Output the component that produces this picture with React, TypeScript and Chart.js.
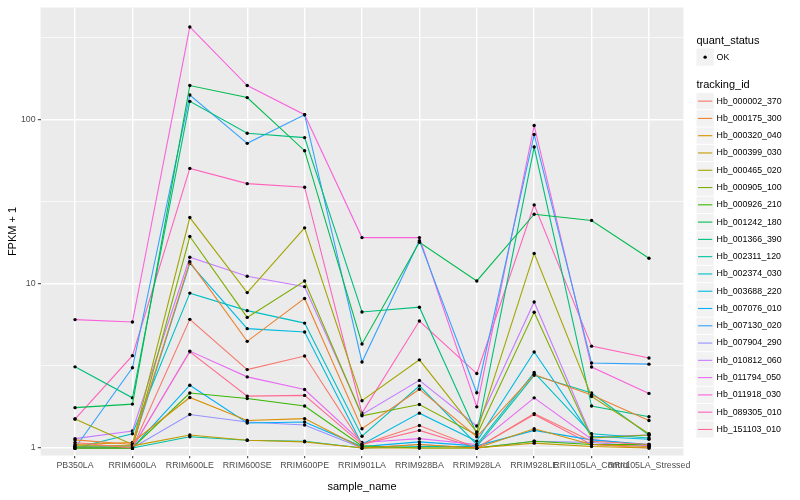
import React, { useEffect, useRef } from "react";
import { Chart, registerables } from "chart.js";

Chart.register(...registerables);

const categories = [
  "PB350LA", "RRIM600LA", "RRIM600LE", "RRIM600SE", "RRIM600PE", "RRIM901LA",
  "RRIM928BA", "RRIM928LA", "RRIM928LE", "RRII105LA_Control", "RRII105LA_Stressed",
];

const trackingIds = [
  "Hb_000002_370", "Hb_000175_300", "Hb_000320_040", "Hb_000399_030", "Hb_000465_020",
  "Hb_000905_100", "Hb_000926_210", "Hb_001242_180", "Hb_001366_390", "Hb_002311_120",
  "Hb_002374_030", "Hb_003688_220", "Hb_007076_010", "Hb_007130_020", "Hb_007904_290",
  "Hb_010812_060", "Hb_011794_050", "Hb_011918_030", "Hb_089305_010", "Hb_151103_010",
];

const seriesColors = [
  "#F8766D", "#EA8331", "#D89000", "#C09B00", "#A3A500", "#7CAE00", "#39B600", "#00BB4E",
  "#00BF7D", "#00C1A3", "#00BFC4", "#00BAE0", "#00B0F6", "#35A2FF", "#9590FF", "#C77CFF",
  "#E76BF3", "#FA62DB", "#FF62BC", "#FF6C91",
];

// FPKM + 1 per sample, in category order
const hb000002_370 = [1.08, 1.0, 6.07, 3.0, 3.63, 1.05, 1.37, 1.0, 1.62, 1.1, 1.05];
const hb000175_300 = [1.12, 1.05, 13.6, 4.46, 8.14, 1.31, 2.28, 1.17, 2.8, 2.1, 1.47];
const hb000320_040 = [1.05, 1.08, 2.03, 1.47, 1.51, 1.0, 1.05, 1.0, 1.31, 1.05, 1.02];
const hb000399_030 = [1.03, 1.03, 1.2, 1.115, 1.09, 1.0, 1.0, 1.0, 1.07, 1.02, 1.0];
const hb000465_020 = [1.5, 1.05, 25.3, 8.83, 21.9, 1.94, 3.44, 1.25, 15.3, 2.06, 1.22];
const hb000905_100 = [1.0, 1.0, 19.4, 6.24, 10.4, 1.57, 1.84, 1.2, 6.7, 1.15, 1.2];
const hb000926_210 = [1.0, 1.0, 2.16, 2.0, 1.8, 1.03, 1.0, 1.0, 1.1, 1.05, 1.05];
const hb001242_180 = [1.76, 1.85, 161, 136, 64.6, 4.3, 17.9, 10.4, 26.5, 24.3, 14.3];
const hb001366_390 = [3.12, 2.02, 129, 82.4, 77.6, 6.73, 7.2, 1.22, 68, 1.8, 1.55];
const hb002311_120 = [1.0, 1.0, 1.17, 1.115, 1.1, 1.0, 1.02, 1.02, 2.77, 2.16, 1.2];
const hb002374_030 = [1.0, 1.22, 8.77, 6.86, 5.76, 1.18, 2.39, 1.05, 2.88, 1.22, 1.15];
const hb003688_220 = [1.02, 1.03, 13.3, 5.33, 5.08, 1.05, 1.63, 1.1, 3.84, 1.18, 1.13];
const hb007076_010 = [1.0, 1.0, 2.41, 1.42, 1.44, 1.02, 1.09, 1.03, 1.28, 1.12, 1.05];
const hb007130_020 = [1.0, 3.08, 141, 71.6, 107, 3.34, 18.3, 2.17, 81, 3.29, 3.24];
const hb007904_290 = [1.02, 1.0, 1.6, 1.44, 1.38, 1.0, 1.05, 1.0, 1.1, 1.08, 1.02];
const hb010812_060 = [1.14, 1.27, 14.5, 11.1, 9.6, 1.6, 2.58, 1.36, 7.75, 1.17, 1.2];
const hb011794_050 = [1.0, 1.0, 3.89, 2.71, 2.27, 1.08, 1.14, 1.05, 2.02, 1.13, 1.03];
const hb011918_030 = [6.05, 5.85, 366, 161, 107, 19.1, 19.1, 1.78, 92, 3.11, 2.15];
const hb089305_010 = [1.5, 3.65, 50.4, 40.7, 38.7, 1.63, 5.93, 2.84, 30.2, 4.17, 3.53];
const hb151103_010 = [1.0, 1.0, 3.85, 2.07, 2.09, 1.05, 1.28, 1.0, 1.6, 1.05, 1.0];

const seriesValues = [
  hb000002_370, hb000175_300, hb000320_040, hb000399_030, hb000465_020,
  hb000905_100, hb000926_210, hb001242_180, hb001366_390, hb002311_120,
  hb002374_030, hb003688_220, hb007076_010, hb007130_020, hb007904_290,
  hb010812_060, hb011794_050, hb011918_030, hb089305_010, hb151103_010,
];

const yTickValues = [1, 3.1623, 10, 31.623, 100, 316.23];
const yMajorLabels = ["1", "10", "100"];
const quantStatus = ["OK"];

const FONT = "'Liberation Sans', Arial, Helvetica, sans-serif";

function isMajor(v: number) {
  const l = Math.log10(v);
  return Math.abs(l - Math.round(l)) < 0.01;
}

const ggPlugin = {
  id: "ggDecor",
  beforeDraw(chart: any) {
    const { ctx, chartArea } = chart;
    ctx.save();
    ctx.fillStyle = "#FFFFFF";
    ctx.fillRect(0, 0, chart.width, chart.height);
    ctx.fillStyle = "#EBEBEB";
    ctx.fillRect(chartArea.left, chartArea.top, chartArea.right - chartArea.left, chartArea.bottom - chartArea.top);
    ctx.restore();
  },
  afterDraw(chart: any) {
    const { ctx, chartArea } = chart;
    ctx.save();
    // axis titles
    ctx.fillStyle = "#000000";
    ctx.font = `11px ${FONT}`;
    ctx.textAlign = "center";
    ctx.textBaseline = "middle";
    ctx.fillText("sample_name", (chartArea.left + chartArea.right) / 2, 487);
    ctx.save();
    ctx.translate(13, (chartArea.top + chartArea.bottom) / 2);
    ctx.rotate(-Math.PI / 2);
    ctx.fillText("FPKM + 1", 0, 0);
    ctx.restore();

    // legend
    const lx = 696.5;
    const key = 17.28;
    ctx.textAlign = "left";
    ctx.font = `11px ${FONT}`;
    ctx.fillText("quant_status", lx, 40.5);
    ctx.fillStyle = "#F2F2F2";
    ctx.fillRect(lx, 48.5, key, key);
    ctx.fillStyle = "#000000";
    ctx.beginPath();
    ctx.arc(lx + key / 2, 48.5 + key / 2, 1.7, 0, Math.PI * 2);
    ctx.fill();
    ctx.font = `8.8px ${FONT}`;
    ctx.fillText(quantStatus[0], lx + key + 2.8, 48.5 + key / 2);

    ctx.font = `11px ${FONT}`;
    ctx.fillText("tracking_id", lx, 84.5);
    ctx.font = `8.8px ${FONT}`;
    trackingIds.forEach((id, i) => {
      const top = 92.5 + i * key;
      ctx.fillStyle = "#F2F2F2";
      ctx.fillRect(lx, top + 0.5, key, key - 1);
      ctx.strokeStyle = seriesColors[i];
      ctx.lineWidth = 1.1;
      ctx.beginPath();
      ctx.moveTo(lx + 1.5, top + key / 2);
      ctx.lineTo(lx + key - 1.5, top + key / 2);
      ctx.stroke();
      ctx.fillStyle = "#000000";
      ctx.fillText(id, lx + key + 2.8, top + key / 2);
    });
    ctx.restore();
  },
};

export default function App() {
  const canvasRef = useRef<HTMLCanvasElement | null>(null);

  useEffect(() => {
    document.body.style.margin = "0";
    const canvas = canvasRef.current;
    if (!canvas) return;

    const datasets = seriesValues.map((vals, s) => ({
      label: trackingIds[s],
      data: vals.map((v, i) => ({ x: i, y: v })),
      borderColor: seriesColors[s],
      backgroundColor: "#000000",
      borderWidth: 1.1,
      tension: 0,
      fill: false,
      pointRadius: 1.7,
      pointHoverRadius: 1.7,
      pointBackgroundColor: "#000000",
      pointBorderWidth: 0,
    }));

    const chart = new Chart(canvas, {
      type: "line",
      data: { datasets },
      plugins: [ggPlugin],
      options: {
        animation: false,
        responsive: true,
        maintainAspectRatio: false,
        layout: { padding: { left: 0, top: 5.5, right: 116.6, bottom: 0 } },
        plugins: { legend: { display: false }, tooltip: { enabled: false } },
        scales: {
          x: {
            type: "linear",
            min: -0.6,
            max: categories.length - 1 + 0.6,
            afterBuildTicks: (scale: any) => {
              scale.ticks = categories.map((_, i) => ({ value: i }));
            },
            afterFit: (scale: any) => {
              scale.height = 44.5;
            },
            ticks: {
              autoSkip: false,
              maxRotation: 0,
              minRotation: 0,
              padding: 2.2,
              color: "#4D4D4D",
              font: { family: FONT, size: 8.8 },
              callback: (v: any) => categories[Math.round(Number(v))] ?? "",
            },
            grid: {
              color: "#FFFFFF",
              lineWidth: 1.4,
              drawTicks: true,
              tickLength: 2.75,
              tickColor: "#333333",
              tickWidth: 1,
            },
            border: { display: false },
          },
          y: {
            type: "logarithmic",
            min: 0.9,
            max: 481,
            afterBuildTicks: (scale: any) => {
              scale.ticks = yTickValues.map((v) => ({ value: v }));
            },
            afterFit: (scale: any) => {
              scale.width = 40.6;
            },
            ticks: {
              autoSkip: false,
              padding: 2.2,
              color: "#4D4D4D",
              font: { family: FONT, size: 8.8 },
              callback: (v: any) => {
                const n = Number(v);
                if (!isMajor(n)) return "";
                const idx = Math.round(Math.log10(n));
                return yMajorLabels[idx] ?? "";
              },
            },
            grid: {
              color: "#FFFFFF",
              lineWidth: (ctx: any) => (ctx.tick && isMajor(ctx.tick.value) ? 1.4 : 0.7),
              drawTicks: true,
              tickLength: 2.75,
              tickWidth: 1,
              tickColor: (ctx: any) => (ctx.tick && isMajor(ctx.tick.value) ? "#333333" : "rgba(0,0,0,0)"),
            },
            border: { display: false },
          },
        },
      } as any,
    });

    return () => chart.destroy();
  }, []);

  return (
    <div style={{ position: "absolute", left: 0, top: 0, width: 800, height: 500 }}>
      <canvas ref={canvasRef} />
    </div>
  );
}
